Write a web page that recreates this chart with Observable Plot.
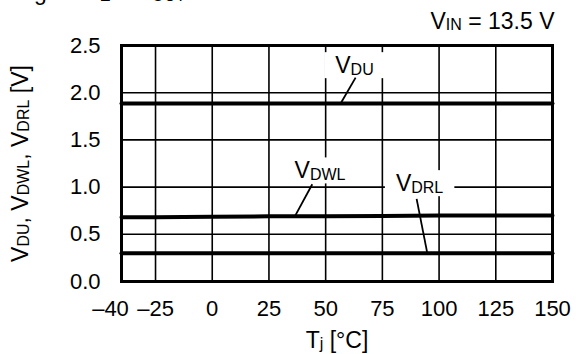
<!DOCTYPE html>
<html>
<head>
<meta charset="utf-8">
<script src="https://cdn.jsdelivr.net/npm/d3@7"></script>
<script src="https://cdn.jsdelivr.net/npm/@observablehq/plot@0.6"></script>
<style>
  html, body { margin: 0; padding: 0; background: #fff; }
  #chart { width: 582px; height: 354px; overflow: hidden; }
</style>
</head>
<body>
<div id="chart"></div>
<script>
// Temperatures (°C) and the three voltage curves (V)
const temps = [-40, -25, 0, 25, 50, 75, 100, 125, 150];
const vdu   = [1.885, 1.885, 1.885, 1.885, 1.885, 1.885, 1.885, 1.885, 1.885];
const vdwl  = [0.68, 0.68, 0.685, 0.69, 0.69, 0.695, 0.70, 0.70, 0.70];
const vdrl  = [0.30, 0.30, 0.30, 0.30, 0.30, 0.30, 0.30, 0.30, 0.30];

// Tick values
const xTicksFirst = [-40];
const xTicks = [-25, 0, 25, 50, 75, 100, 125, 150];
const xGrid  = [-25, 0, 25, 50, 75, 100, 125];
const yTicks = [0, 0.5, 1.0, 1.5, 2.0, 2.5];
const yGrid  = [0.5, 1.0, 1.5, 2.0];

// Curve labels (annotation anchors in data units) and leader lines
const labelNames = ["V_{DU}", "V_{DWL}", "V_{DRL}"];
const labelT     = [62.7, 47.5, 91.4];
const labelV     = [2.285, 1.17, 1.035];
const leaderT1   = [63.2, 44.1, 90.1];
const leaderV1   = [2.16, 1.03, 0.875];
const leaderT2   = [56.6, 36.3, 94.8];
const leaderV2   = [1.885, 0.685, 0.30];

const titleText  = "V_{IN} = 13.5 V";
const topText    = "Fig. 4: V_{Z} = V_{OUT} = 5.0 V";
const xLabel     = "T_{j} [°C]";
const yLabel     = "V_{DU}, V_{DWL}, V_{DRL} [V]";

const series = [];
temps.forEach((t, i) => {
  series.push({t, v: vdu[i], s: "DU"});
  series.push({t, v: vdwl[i], s: "DWL"});
  series.push({t, v: vdrl[i], s: "DRL"});
});
const labels = labelNames.map((n, i) => ({n, t: labelT[i], v: labelV[i]}));
const leaders = labelNames.map((n, i) => ({x1: leaderT1[i], y1: leaderV1[i], x2: leaderT2[i], y2: leaderV2[i]}));

const FONT = "'Liberation Sans', Arial, sans-serif";
const FS = 23;      // label font size
const SUB = 16;     // subscript font size
const TICK = 22;    // tick label font size
const fmtX = d => d < 0 ? "\u2013" + Math.abs(d) : String(d);

const plot = Plot.plot({
  width: 582,
  height: 354,
  marginLeft: 121,
  marginRight: 30,
  marginTop: 45,
  marginBottom: 73,
  style: {fontFamily: FONT, fontSize: TICK + "px", color: "#000", background: "#fff", overflow: "visible"},
  x: {domain: [-40, 150]},
  y: {domain: [0, 2.5]},
  marks: [
    Plot.ruleX(xGrid, {stroke: "#000", strokeWidth: 1.6}),
    Plot.ruleY(yGrid, {stroke: "#000", strokeWidth: 1.6}),
    Plot.line(series, {x: "t", y: "v", z: "s", stroke: "#000", strokeWidth: 4}),
    Plot.text(labels, {x: "t", y: "v", text: "n", fill: "#000", fontSize: FS, lineAnchor: "middle", className: "curve-label"}),
    Plot.link(leaders, {x1: "x1", y1: "y1", x2: "x2", y2: "y2", stroke: "#000", strokeWidth: 1.8}),
    Plot.frame({stroke: "#000", strokeWidth: 3}),
    Plot.axisX(xTicksFirst, {tickSize: 0, tickPadding: 19, fontSize: TICK, tickFormat: fmtX, dx: -11, label: null}),
    Plot.axisX(xTicks, {tickSize: 0, tickPadding: 19, fontSize: TICK, tickFormat: fmtX, label: null}),
    Plot.axisY(yTicks, {tickSize: 0, tickPadding: 21, fontSize: TICK, tickFormat: d => d.toFixed(1), label: null}),
    Plot.text([xLabel], {frameAnchor: "bottom", dy: 59, lineAnchor: "middle", fontSize: FS}),
    Plot.text([yLabel], {frameAnchor: "left", dx: -101, rotate: -90, lineAnchor: "middle", textAnchor: "middle", fontSize: FS}),
    Plot.text([titleText], {frameAnchor: "top-right", dx: 2, dy: -17, textAnchor: "end", lineAnchor: "bottom", fontSize: FS}),
    Plot.text([topText], {frameAnchor: "top-left", dx: 144, dy: -46, textAnchor: "end", lineAnchor: "bottom", fontSize: FS})
  ]
});

// Turn "_{...}" into subscript tspans
function subscriptify(svg) {
  const ns = "http://www.w3.org/2000/svg";
  svg.querySelectorAll("text").forEach(t => {
    const targets = t.querySelectorAll("tspan").length ? Array.from(t.querySelectorAll("tspan")) : [t];
    targets.forEach(el => {
      const s = el.textContent;
      if (!s.includes("_{")) return;
      while (el.firstChild) el.removeChild(el.firstChild);
      const re = /_\{([^}]*)\}/g;
      let last = 0, m, pendingBack = false;
      const addNormal = str => {
        if (!str) return;
        if (pendingBack) {
          const back = document.createElementNS(ns, "tspan");
          back.setAttribute("dy", "-1.5");
          back.textContent = str;
          el.appendChild(back);
          pendingBack = false;
        } else {
          el.appendChild(document.createTextNode(str));
        }
      };
      while ((m = re.exec(s))) {
        addNormal(s.slice(last, m.index));
        const sub = document.createElementNS(ns, "tspan");
        sub.setAttribute("font-size", String(SUB));
        sub.setAttribute("dy", pendingBack ? "0" : "1.5");
        sub.textContent = m[1];
        el.appendChild(sub);
        pendingBack = true;
        last = m.index + m[0].length;
      }
      addNormal(s.slice(last));
    });
  });
}
subscriptify(plot);
document.getElementById("chart").appendChild(plot);

// White boxes behind curve labels (break the grid like the reference)
const ns = "http://www.w3.org/2000/svg";
plot.querySelectorAll("g.curve-label text, .curve-label text").forEach(t => {
  const b = t.getBBox();
  const r = document.createElementNS(ns, "rect");
  r.setAttribute("x", b.x - 11);
  r.setAttribute("y", b.y);
  r.setAttribute("width", b.width + 22);
  r.setAttribute("height", b.height);
  r.setAttribute("fill", "#fff");
  const tr = t.getAttribute("transform");
  if (tr) r.setAttribute("transform", tr);
  t.parentNode.insertBefore(r, t);
});
</script>
</body>
</html>
